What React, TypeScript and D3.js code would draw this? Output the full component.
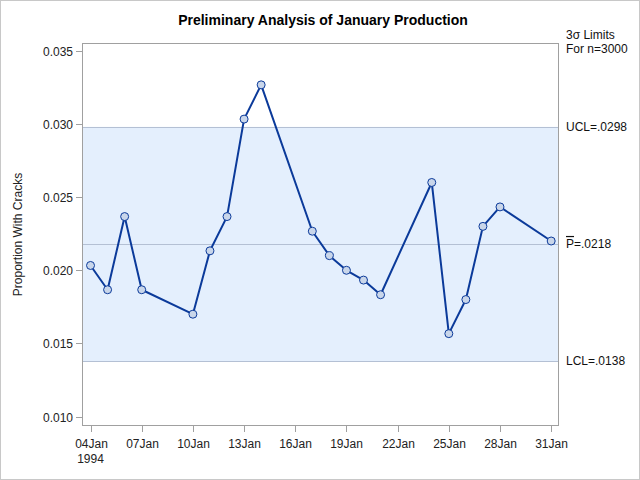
import React from 'react';
import * as d3 from 'd3';

// January 1994 production days and proportion of cracked units (n=3000 per day)
const days = [
  '1994-01-04', '1994-01-05', '1994-01-06', '1994-01-07', '1994-01-10',
  '1994-01-11', '1994-01-12', '1994-01-13', '1994-01-14', '1994-01-17',
  '1994-01-18', '1994-01-19', '1994-01-20', '1994-01-21', '1994-01-24',
  '1994-01-25', '1994-01-26', '1994-01-27', '1994-01-28', '1994-01-31',
];
const proportions = [
  0.02033, 0.01867, 0.02367, 0.01867, 0.017,
  0.02133, 0.02367, 0.03033, 0.03267, 0.02267,
  0.021, 0.02, 0.01933, 0.01833, 0.026,
  0.01567, 0.018, 0.023, 0.02433, 0.022,
];
const yTicks = [0.01, 0.015, 0.02, 0.025, 0.03, 0.035];
const xTickDays = [
  '1994-01-04', '1994-01-07', '1994-01-10', '1994-01-13', '1994-01-16',
  '1994-01-19', '1994-01-22', '1994-01-25', '1994-01-28', '1994-01-31',
];
const xTickLabels = ['04Jan', '07Jan', '10Jan', '13Jan', '16Jan', '19Jan', '22Jan', '25Jan', '28Jan', '31Jan'];
const limits = { ucl: 0.0298, center: 0.0218, lcl: 0.0138 };
const limitLabels = ['UCL=.0298', '=.0218', 'LCL=.0138'];

const W = 640;
const H = 480;
const margin = { top: 43, right: 81, bottom: 54, left: 82 };
const font = '"Liberation Sans", Arial, sans-serif';

const App = () => {
  const parse = d3.utcParse('%Y-%m-%d');
  const data = days.map((d, i) => ({ date: parse(d), p: proportions[i] }));

  const x = d3
    .scaleUtc()
    .domain([d3.utcHour.offset(parse(days[0]), -12), d3.utcHour.offset(parse(days[days.length - 1]), 11)])
    .range([margin.left, W - margin.right]);

  const y = d3
    .scaleLinear()
    .domain([0.00936, 0.03553])
    .range([H - margin.bottom, margin.top]);

  const line = d3
    .line()
    .x((d) => x(d.date))
    .y((d) => y(d.p));

  const left = margin.left;
  const right = W - margin.right;
  const top = margin.top;
  const bottom = H - margin.bottom;
  const gridColor = '#b4c0d4';

  return (
    <svg width={W} height={H} style={{ position: 'absolute', left: 0, top: 0 }} fontFamily={font}>
      <rect x={0.5} y={0.5} width={W - 1} height={H - 1} fill="#fff" stroke="#c8c8c8" />
      <text x={W / 2 + 3} y={25} textAnchor="middle" fontSize={14} fontWeight="bold">
        Preliminary Analysis of January Production
      </text>

      {/* control band */}
      <rect x={left} y={y(limits.ucl)} width={right - left} height={y(limits.lcl) - y(limits.ucl)} fill="#e4effd" />
      {[limits.ucl, limits.center, limits.lcl].map((v) => (
        <line key={v} x1={left} x2={right} y1={Math.round(y(v)) + 0.5} y2={Math.round(y(v)) + 0.5} stroke={gridColor} />
      ))}

      <path d={line(data)} fill="none" stroke="#0b3a9a" strokeWidth={2} strokeLinejoin="round" />
      {data.map((d, i) => (
        <circle key={i} cx={x(d.date)} cy={y(d.p)} r={4} fill="#c9d6ea" stroke="#0b3a9a" strokeWidth={1} />
      ))}

      <rect x={left + 0.5} y={top + 0.5} width={right - left - 1} height={bottom - top - 1} fill="none" stroke="#a0a0a0" />

      {/* y axis */}
      {yTicks.map((t) => (
        <g key={t} transform={`translate(0,${Math.round(y(t)) + 0.5})`}>
          <line x1={left - 6} x2={left} stroke="#a0a0a0" />
          <text x={left - 9} dy="0.35em" textAnchor="end" fontSize={12} fill="#222">
            {d3.format('.3f')(t)}
          </text>
        </g>
      ))}
      <text
        transform={`translate(22,${(top + bottom) / 2}) rotate(-90)`}
        textAnchor="middle"
        fontSize={12}
        fill="#222"
      >
        Proportion With Cracks
      </text>

      {/* x axis */}
      {xTickDays.map((d, i) => {
        const px = Math.round(x(parse(d))) + 0.5;
        return (
          <g key={d} transform={`translate(${px},0)`}>
            <line y1={bottom} y2={bottom + 6} stroke="#a0a0a0" />
            <text y={bottom + 22} textAnchor="middle" fontSize={12} fill="#222">
              {xTickLabels[i]}
            </text>
          </g>
        );
      })}
      <text x={x(parse(xTickDays[0]))} y={bottom + 37} textAnchor="middle" fontSize={12} fill="#222">
        1994
      </text>

      {/* limit labels */}
      <g fontSize={12} fill="#111">
        <text x={right + 7} y={39}>3σ Limits</text>
        <text x={right + 7} y={53}>For n=3000</text>
        <text x={right + 7} y={y(limits.ucl) + 4}>{limitLabels[0]}</text>
        <text x={right + 7} y={y(limits.center) + 4}>
          <tspan style={{ textDecoration: 'overline' }}>P</tspan>
          {limitLabels[1]}
        </text>
        <text x={right + 7} y={y(limits.lcl) + 4}>{limitLabels[2]}</text>
      </g>
    </svg>
  );
};

export default App;
